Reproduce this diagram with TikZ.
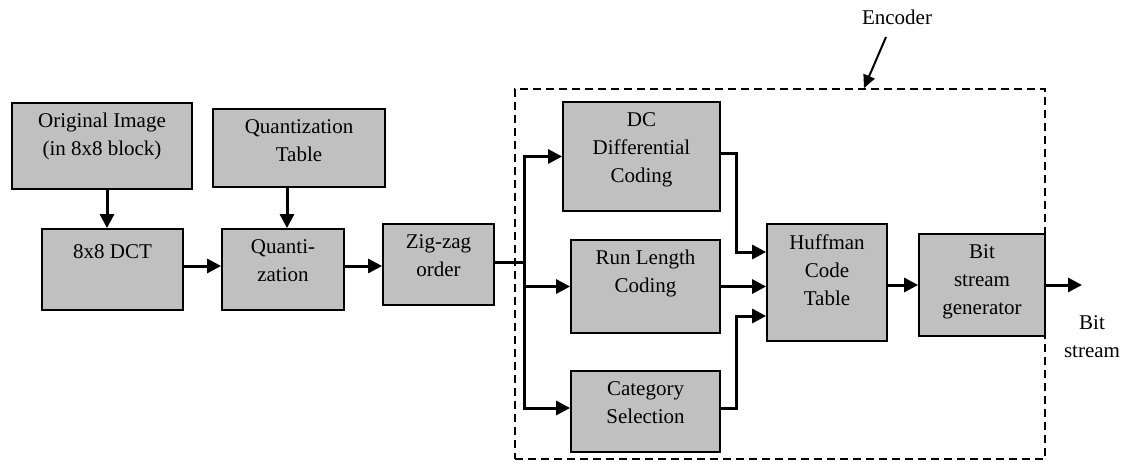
\documentclass[tikz,border=0pt]{standalone}
\usepackage{fontspec}
\setmainfont{Liberation Serif}
\usetikzlibrary{arrows.meta}
\definecolor{boxgray}{RGB}{192,192,192}
\begin{document}
\begin{tikzpicture}[x=1pt,y=-1pt,
  blk/.style={draw=black, line width=1.8pt, fill=boxgray, inner sep=0pt},
  txt/.style={anchor=north, align=center, inner sep=0pt, yshift=-11pt,
    font=\fontsize{21}{28}\selectfont, execute at begin node=\strut},
  plain/.style={align=center, inner sep=0pt, font=\fontsize{21}{28}\selectfont},
  arr/.style={line width=3pt, -{Triangle[length=14pt,width=14pt]}},
  link/.style={line width=3pt},
  encl/.style={draw=black, line width=1.8pt, dash pattern=on 8pt off 5pt, inner sep=0pt},
]
\useasboundingbox (0,0) rectangle (1129,461);

% encoder frame
\node[encl, minimum width=530pt, minimum height=370pt] (encbox) at (780,274) {};

% processing blocks
\node[blk, minimum width=180pt, minimum height=86pt,
  label={[txt]north:Original Image\\(in 8x8 block)}] (orig) at (102,146) {};
\node[blk, minimum width=172pt, minimum height=78pt,
  label={[txt]north:Quantization\\Table}] (qtab) at (299,148) {};
\node[blk, minimum width=141pt, minimum height=81pt,
  label={[txt]north:8x8 DCT}] (dct) at (112.5,269.5) {};
\node[blk, minimum width=122pt, minimum height=81pt,
  label={[txt]north:Quanti-\\zation}] (quant) at (283,269.5) {};
\node[blk, minimum width=111pt, minimum height=81pt,
  label={[txt]north:Zig-zag\\order}] (zig) at (438.5,264.5) {};
\node[blk, minimum width=157pt, minimum height=109pt,
  label={[txt]north:DC\\Differential\\Coding}] (dc) at (641.5,156.5) {};
\node[blk, minimum width=149pt, minimum height=93pt,
  label={[txt]north:Run Length\\Coding}] (rl) at (645.5,286.5) {};
\node[blk, minimum width=149pt, minimum height=81pt,
  label={[txt]north:Category\\Selection}] (cat) at (645.5,411.5) {};
\node[blk, minimum width=120pt, minimum height=117pt,
  label={[txt]north:Huffman\\Code\\Table}] (huff) at (827,282.5) {};
\node[blk, minimum width=126pt, minimum height=102pt,
  label={[txt]north:Bit\\stream\\generator}] (bsg) at (982,285) {};

% free texts
\node[plain] (enclab) at (897,17) {Encoder};
\node[plain] (bitout) at (1092,337) {Bit\\stream};

\coordinate (encfrom) at (886,37);
\coordinate (enctip) at (encbox.north -| 864,0);
\coordinate (split) at (524,262);
\coordinate (out) at (1082,285);

% connectors
\draw[arr] ([xshift=5pt]orig.south) -- ([xshift=5pt]orig.south |- dct.north);
\draw[arr] ([xshift=-12pt]qtab.south) -- ([xshift=-12pt]qtab.south |- quant.north);
\draw[arr] ([yshift=3.5pt]dct.east) -- ([yshift=3.5pt]dct.east -| quant.west);
\draw[arr] ([yshift=3.5pt]quant.east) -- ([yshift=3.5pt]quant.east -| zig.west);
\draw[link] ([yshift=2.5pt]zig.east) -- (split);
\draw[arr] (split) |- (dc.west);
\draw[arr] (split |- rl.west) -- (rl.west);
\draw[arr] (split) |- ([yshift=3.5pt]cat.west);
\draw[arr] ([yshift=3.5pt]dc.east) -- ++(16,0) |- ([yshift=30.5pt]huff.west);
\draw[arr] (rl.east) -- (rl.east -| huff.west);
\draw[arr] ([yshift=3.5pt]cat.east) -- ++(16,0) |- ([yshift=-33.5pt]huff.west);
\draw[arr] ([yshift=-2.5pt]huff.east) -- ([yshift=-2.5pt]huff.east -| bsg.west);
\draw[arr] (bsg.east) -- (out);
\draw[line width=2pt, -{Triangle[length=13pt,width=12pt]}] (encfrom) -- (enctip);
\end{tikzpicture}
\end{document}
